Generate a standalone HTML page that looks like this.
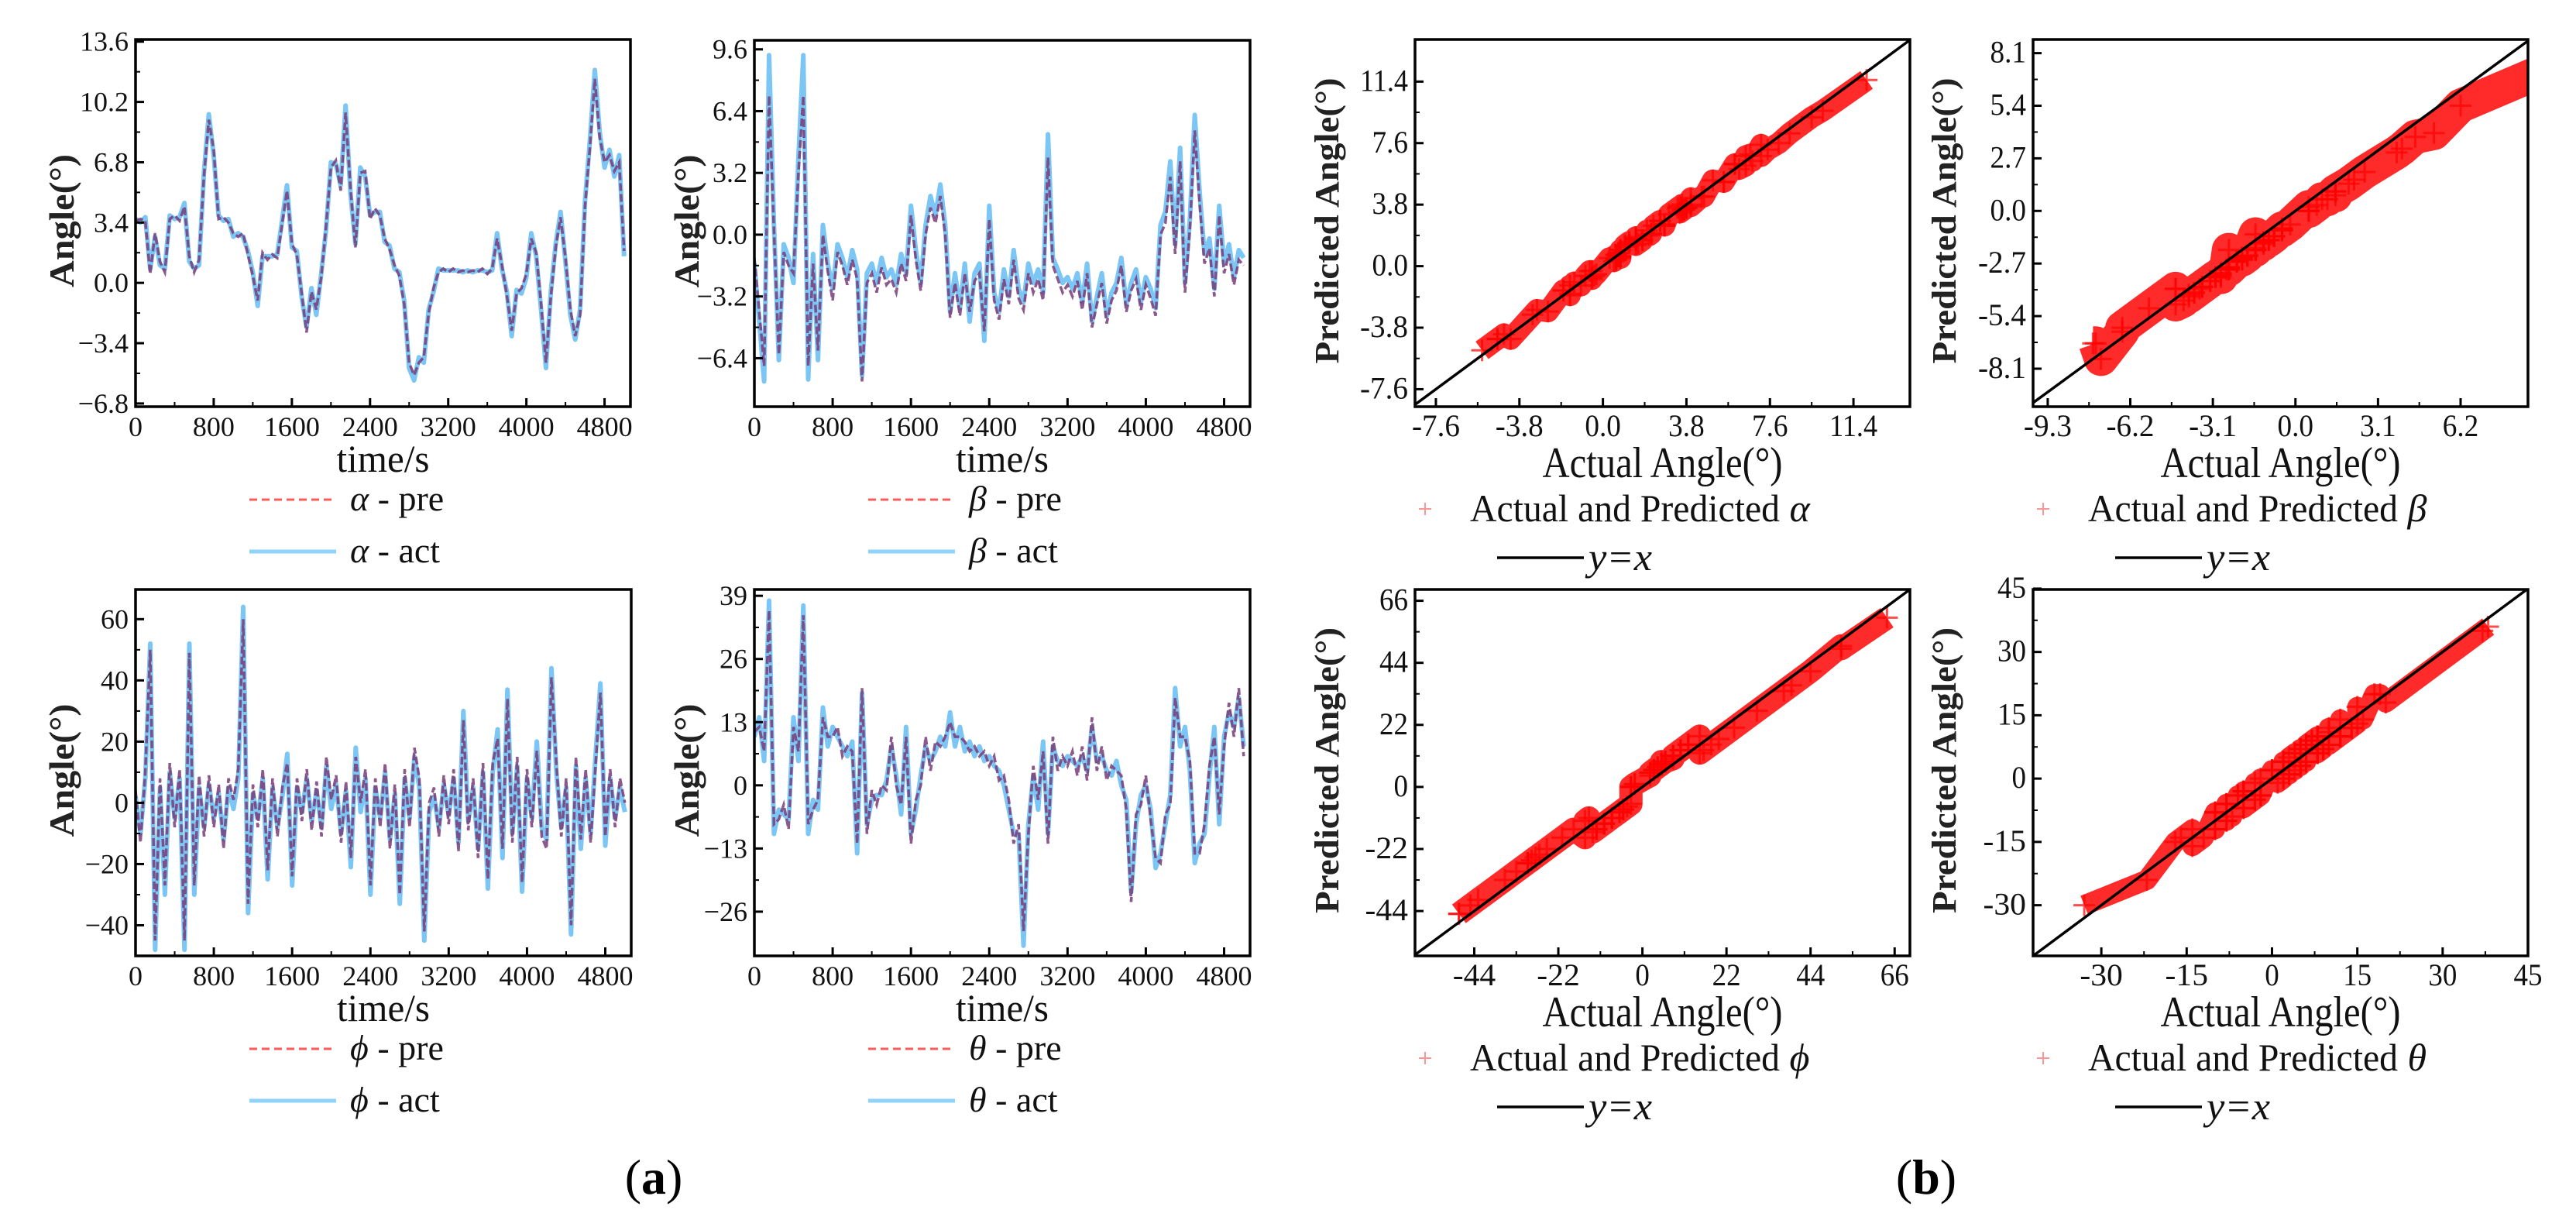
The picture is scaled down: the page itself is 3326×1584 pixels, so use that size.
<!DOCTYPE html>
<html><head><meta charset="utf-8"><title>Angle prediction results</title>
<style>
html,body{margin:0;padding:0;background:#fff;width:3326px;height:1584px;overflow:hidden;position:relative;}
svg{position:absolute;left:0;top:0;display:block;font-family:"Liberation Serif","DejaVu Serif",serif;}
</style></head>
<body><svg id="fig" width="3326" height="1584" viewBox="0 0 3326 1584" xmlns="http://www.w3.org/2000/svg">
<rect x="0" y="0" width="3326" height="1584" fill="#fff"/>
<text x="844" y="1541" font-size="64" text-anchor="middle">(<tspan font-weight="bold">a</tspan>)</text>
<text x="2487" y="1541" font-size="64" text-anchor="middle">(<tspan font-weight="bold">b</tspan>)</text>
</svg><script>
// ---------- data ----------
const timeTicks = [0, 800, 1600, 2400, 3200, 4000, 4800];
const timeTickLabels = ["0", "800", "1600", "2400", "3200", "4000", "4800"];
const timeSpan = 5000;

const alphaAct = [3.6,3.4,3.7,0.8,2.6,1.0,0.8,3.8,3.6,3.7, 4.5,1.2,0.8,1.0,6.2,9.5,7.2,3.8,3.5,3.6, 2.6,2.8,2.6,1.8,0.6,-1.3,1.5,1.5,1.5,1.6, 3.5,5.5,2.0,1.8,-0.8,-2.5,-0.3,-1.8,0.5,3.0, 6.8,6.7,5.5,10.0,5.0,2.2,6.5,6.0,3.8,4.0, 4.0,2.3,2.1,0.8,0.6,-1.0,-4.8,-5.5,-4.2,-4.5, -1.5,-0.5,0.8,0.7,0.7,0.7,0.7,0.6,0.7,0.6, 0.7,0.7,0.6,0.7,2.8,0.8,-0.5,-3.0,-0.4,-0.6, 0.3,2.8,1.5,-1.5,-4.8,-0.5,2.2,4.0,1.2,-1.8, -3.2,-1.5,4.6,8.0,12.0,8.5,6.5,7.5,6.0,7.2, 1.5];
const alphaPre = [3.5,3.6,3.5,0.5,2.8,1.2,0.6,3.6,3.8,3.5, 4.3,1.5,0.6,1.3,6.0,9.2,7.5,3.6,3.7,3.4, 2.8,2.6,2.8,1.6,0.4,-1.0,1.7,1.3,1.6,1.4, 3.3,5.2,2.2,1.6,-0.6,-2.8,-0.5,-1.5,0.3,3.2, 6.5,6.9,5.2,9.6,5.3,2.0,6.2,6.3,3.6,4.2, 3.8,2.5,1.9,1.0,0.4,-1.2,-4.5,-5.2,-4.5,-4.2, -1.7,-0.3,0.6,0.8,0.6,0.8,0.6,0.7,0.6,0.7, 0.6,0.8,0.5,0.8,2.5,1.0,-0.7,-2.7,-0.6,-0.3, 0.5,2.5,1.7,-1.2,-4.5,-0.8,2.0,3.7,1.4,-1.5, -3.0,-1.8,4.3,7.6,11.5,8.2,6.8,7.2,6.3,6.8, 1.8];

const betaAct = [-1.5,-4.5,-7.6,9.3,0.5,-6.5,-0.5,-1.2,-2.5,4.0, 9.3,-7.5,-1.0,-6.5,0.5,-1.5,-2.8,-0.5,-1.2,-2.2, -0.8,-1.8,-7.3,-2.0,-1.5,-2.5,-1.2,-2.2,-1.8,-2.6, -1.0,-2.0,1.5,-0.8,-2.5,0.5,2.0,1.0,2.6,0.5, -4.0,-2.0,-3.8,-1.5,-4.5,-2.0,-1.5,-5.5,1.5,-3.0, -4.0,-1.8,-3.2,-0.8,-2.8,-3.5,-1.5,-2.5,-1.8,-3.0, 5.2,-1.2,-1.8,-2.5,-2.2,-2.8,-2.0,-3.5,-1.5,-4.5, -3.2,-2.0,-4.2,-3.0,-2.5,-1.2,-3.6,-2.5,-1.8,-3.5, -2.2,-2.8,-3.8,0.5,1.2,3.8,-0.5,4.5,-2.5,0.8, 6.2,2.2,-1.0,-0.2,-2.8,1.5,-1.5,-0.5,-2.2,-0.8, -1.2];
const betaPre = [-1.2,-4.0,-6.8,7.2,0.2,-6.2,-0.9,-1.6,-2.0,3.2, 7.2,-6.8,-1.5,-6.0,0.0,-1.9,-3.4,-0.9,-1.6,-2.6, -1.3,-2.3,-7.6,-2.5,-2.0,-3.0,-1.7,-2.6,-2.3,-3.0, -1.5,-2.4,1.0,-1.3,-2.9,0.0,1.4,0.6,2.0,0.0, -4.3,-2.5,-4.2,-2.0,-4.0,-2.4,-2.0,-5.0,0.8,-3.4, -4.4,-2.3,-3.6,-1.3,-3.3,-3.9,-2.0,-3.0,-2.3,-3.4, 4.0,-1.6,-2.3,-3.0,-2.6,-3.2,-2.4,-3.9,-2.0,-4.8, -3.6,-2.5,-4.6,-3.4,-2.9,-1.6,-4.0,-2.9,-2.3,-3.9, -2.6,-3.3,-4.2,0.0,0.6,3.0,-1.0,3.8,-3.0,0.3, 5.4,1.6,-1.5,-0.7,-3.2,1.0,-2.0,-1.0,-2.6,-1.3, -1.6];

const phiAct = [2,-10,8,52,-48,5,-30,10,-5,8, -48,52,-30,5,-8,6,-5,3,-12,5, -2,8,64,-36,3,-5,8,-25,5,-8, 2,16,-27,5,-3,8,-6,4,-8,12, -2,6,-10,4,-21,18,-3,8,-30,5, -5,10,-12,3,-33,8,-5,15,5,-45, -3,2,-8,6,-4,8,-13,30,-6,5, -15,10,-28,10,24,-18,37,-10,12,-29, 8,-5,20,-8,-12,44,10,-8,5,-43, 12,-15,8,-10,15,39,-14,8,-5,5, -3];
const phiPre = [4,-13,10,50,-45,8,-27,13,-8,11, -45,49,-27,9,-11,9,-8,6,-15,8, 1,11,60,-33,6,-8,11,-22,8,-11, 5,13,-24,8,-6,11,-9,7,-11,15, 1,9,-13,7,-18,15,0,11,-27,8, -8,13,-15,6,-30,11,-8,18,8,-42, 0,5,-11,9,-7,11,-16,27,-9,8, -18,13,-25,13,21,-15,34,-13,15,-26, 11,-8,17,-11,-15,41,13,-11,8,-40, 15,-12,11,-13,12,36,-11,11,-8,8, 0];

const thetaAct = [10,14,5,38,-10,-5,-6,-7,14,5, 37,-10,-3,-5,16,8,12,10,8,6, 9,-14,19,-8,-3,-2,-2,1,8,2, -6,12,-10,-5,2,8,5,7,10,8, 15,8,12,7,9,6,8,5,6,4, 3,0,-5,-10,-10,-33,-8,2,-5,9, -10,8,5,4,6,5,4,6,3,12, 5,6,3,2,5,0,-3,-22,-8,-2, 0,-5,-17,-14,-8,-2,20,8,12,3, -16,-12,-10,2,12,-8,10,15,12,18, 8];
const thetaPre = [11,12,7,36,-8,-7,-4,-9,12,7, 35,-8,-5,-3,14,10,10,12,6,8, 7,-12,20,-10,-1,-4,0,-1,10,0, -4,10,-12,-3,0,10,3,9,8,10, 13,10,10,9,7,8,6,7,4,6, 1,2,-3,-12,-8,-30,-10,4,-3,7, -12,10,3,6,4,7,2,8,1,14, 3,8,1,4,3,2,-5,-24,-6,-4, 2,-7,-15,-16,-6,-4,18,10,10,5, -14,-14,-8,4,10,-6,8,17,10,20, 6];

const alphaTicks = [-6.8,-3.4,0,3.4,6.8,10.2,13.6];
const alphaTickLabels = ["\u22126.8","\u22123.4","0.0","3.4","6.8","10.2","13.6"];
const betaTicks = [-6.4,-3.2,0,3.2,6.4,9.6];
const betaTickLabels = ["\u22126.4","\u22123.2","0.0","3.2","6.4","9.6"];
const phiTicks = [-40,-20,0,20,40,60];
const phiTickLabels = ["\u221240","\u221220","0","20","40","60"];
const thetaTicks = [-26,-13,0,13,26,39];
const thetaTickLabels = ["\u221226","\u221213","0","13","26","39"];

const sAlphaTicks = [-7.6,-3.8,0,3.8,7.6,11.4];
const sAlphaTickLabels = ["-7.6","-3.8","0.0","3.8","7.6","11.4"];
const sBetaXTicks = [-9.3,-6.2,-3.1,0,3.1,6.2];
const sBetaXTickLabels = ["-9.3","-6.2","-3.1","0.0","3.1","6.2"];
const sBetaYTicks = [-8.1,-5.4,-2.7,0,2.7,5.4,8.1];
const sBetaYTickLabels = ["-8.1","-5.4","-2.7","0.0","2.7","5.4","8.1"];
const sPhiTicks = [-44,-22,0,22,44,66];
const sPhiTickLabels = ["-44","-22","0","22","44","66"];
const sThetaXTicks = [-30,-15,0,15,30,45];
const sThetaXTickLabels = ["-30","-15","0","15","30","45"];
const sThetaYTicks = [-30,-15,0,15,30,45];
const sThetaYTickLabels = ["-30","-15","0","15","30","45"];

// ---------- helpers ----------
const NS = "http://www.w3.org/2000/svg";
const svg = document.getElementById('fig');
function mk(tag, parent, name) {
  const e = document.createElementNS(NS, tag);
  
  
  parent.appendChild(e);
  return e;
}
function setA(e, o) { for (const k in o) e.setAttribute(k, o[k]); return e; }

let clipId = 0;
function makePanel(cfg) {
  const g = mk('g', svg, cfg.name);
  const sx = v => cfg.L + (v - cfg.xmin) / (cfg.xmax - cfg.xmin) * (cfg.R - cfg.L);
  const sy = v => cfg.B - (v - cfg.ymin) / (cfg.ymax - cfg.ymin) * (cfg.B - cfg.T);
  const cid = 'clip' + (clipId++);
  const cp = document.createElementNS(NS, 'clipPath');
  cp.setAttribute('id', cid);
  const cr = document.createElementNS(NS, 'rect');
  setA(cr, {x: cfg.L, y: cfg.T, width: cfg.R - cfg.L, height: cfg.B - cfg.T});
  cp.appendChild(cr); svg.appendChild(cp);
  const plot = mk('g', g, 'plot-area');
  plot.setAttribute('clip-path', 'url(#' + cid + ')');
  const xg = mk('g', g, 'x-axis');
  cfg.xt.forEach((v, i) => {
    const x = sx(v);
    const t = mk('line', xg, 'x-tick');
    setA(t, {x1: x, x2: x, y1: cfg.B, y2: cfg.B - 11, stroke: '#000', 'stroke-width': 3});
    if (i < cfg.xt.length - 1) {
      const m = sx((v + cfg.xt[i + 1]) / 2);
      const mt = mk('line', xg, 'x-minor-tick');
      setA(mt, {x1: m, x2: m, y1: cfg.B, y2: cfg.B - 6, stroke: '#000', 'stroke-width': 2});
    }
    const lb = mk('text', xg, 'x-tick-label');
    setA(lb, {x: x, y: cfg.B + 38, 'font-size': cfg.tfs, 'text-anchor': 'middle', fill: '#111'});
    if (cfg.cw) setA(lb, {textLength: cfg.xl[i].length * cfg.cw, lengthAdjust: 'spacingAndGlyphs'});
    lb.textContent = cfg.xl[i];
  });
  const yg = mk('g', g, 'y-axis');
  cfg.yt.forEach((v, i) => {
    const y = sy(v);
    const t = mk('line', yg, 'y-tick');
    setA(t, {x1: cfg.L, x2: cfg.L + 11, y1: y, y2: y, stroke: '#000', 'stroke-width': 3});
    if (i < cfg.yt.length - 1) {
      const m = sy((v + cfg.yt[i + 1]) / 2);
      const mt = mk('line', yg, 'y-minor-tick');
      setA(mt, {x1: cfg.L, x2: cfg.L + 6, y1: m, y2: m, stroke: '#000', 'stroke-width': 2});
    }
    const lb = mk('text', yg, 'y-tick-label');
    setA(lb, {x: cfg.L - 9, y: y + 12, 'font-size': cfg.tfs, 'text-anchor': 'end', fill: '#111'});
    if (cfg.cw) setA(lb, {textLength: cfg.yl[i].length * cfg.cw, lengthAdjust: 'spacingAndGlyphs'});
    lb.textContent = cfg.yl[i];
  });
  const xt = mk('text', g, 'x-axis-title');
  setA(xt, {x: (cfg.L + cfg.R) / 2, y: cfg.B + cfg.xtDy, 'font-size': cfg.xtfs, 'text-anchor': 'middle', textLength: cfg.xtLen, lengthAdjust: 'spacingAndGlyphs', fill: '#111'});
  xt.textContent = cfg.xTitle;
  const yt = mk('text', g, 'y-axis-title');
  const cy = (cfg.T + cfg.B) / 2 - 3;
  setA(yt, {x: cfg.ytX, y: cy, 'font-size': cfg.ytfs, 'font-weight': 'bold', 'text-anchor': 'middle', transform: 'rotate(-90 ' + cfg.ytX + ' ' + cy + ')', textLength: cfg.ytLen, lengthAdjust: 'spacingAndGlyphs', fill: '#222'});
  yt.textContent = cfg.yTitle;
  const fr = mk('rect', g, 'plot-frame');
  setA(fr, {x: cfg.L, y: cfg.T, width: cfg.R - cfg.L, height: cfg.B - cfg.T, fill: 'none', stroke: '#000', 'stroke-width': 3.5});
  return {g, plot, sx, sy};
}

function timeSeries(cfg, act, pre, sym) {
  const p = makePanel(cfg);
  const n = act.length;
  const ptsA = act.map((v, i) => p.sx(i / (n - 1) * timeSpan).toFixed(1) + ',' + p.sy(v).toFixed(1)).join(' ');
  const la = mk('polyline', p.plot, sym + '-act-line');
  setA(la, {points: ptsA, fill: 'none', stroke: '#7cc6f6', 'stroke-width': 6, 'stroke-linejoin': 'round'});
  const m = pre.length;
  const ptsP = pre.map((v, i) => p.sx(i / (m - 1) * timeSpan).toFixed(1) + ',' + p.sy(v).toFixed(1)).join(' ');
  const lp = mk('polyline', p.plot, sym + '-pre-line');
  setA(lp, {points: ptsP, fill: 'none', stroke: 'rgba(120,60,120,0.85)', 'stroke-width': 3.5, 'stroke-dasharray': '10,4'});
  const lg = mk('g', svg, sym + '-legend');
  const lx = cfg.L + 147, ly = cfg.B + 120;
  const l1 = mk('line', lg, 'legend-pre-swatch');
  setA(l1, {x1: lx, x2: lx + 112, y1: ly, y2: ly, stroke: '#ff5a5a', 'stroke-width': 3, 'stroke-dasharray': '10,6'});
  const t1 = mk('text', lg, 'legend-pre-label');
  setA(t1, {x: lx + 130, y: ly + 14, 'font-size': 46, fill: '#111'});
  t1.innerHTML = '<tspan font-style="italic">' + cfg.greek + '</tspan> - pre';
  const l2 = mk('line', lg, 'legend-act-swatch');
  setA(l2, {x1: lx, x2: lx + 112, y1: ly + 67, y2: ly + 67, stroke: '#8fd3fb', 'stroke-width': 5});
  const t2 = mk('text', lg, 'legend-act-label');
  setA(t2, {x: lx + 130, y: ly + 81, 'font-size': 46, fill: '#111'});
  t2.innerHTML = '<tspan font-style="italic">' + cfg.greek + '</tspan> - act';
}

function scatter(cfg, act, pre, sym) {
  const p = makePanel(cfg);
  const idx = act.map((v, i) => i).sort((a, b) => act[a] - act[b]);
  const band = mk('polyline', p.plot, sym + '-scatter-density-band');
  setA(band, {points: idx.map(i => p.sx(act[i]).toFixed(1) + ',' + p.sy(pre[i]).toFixed(1)).join(' '), fill: 'none', stroke: 'rgba(255,20,20,0.9)', 'stroke-width': cfg.bandW, 'stroke-linejoin': 'round', 'stroke-linecap': 'butt'});
  const pg = mk('g', p.plot, sym + '-scatter-points');
  act.forEach((v, i) => {
    const x = p.sx(v), y = p.sy(pre[i]);
    const c = mk('path', pg, 'scatter-point');
    setA(c, {d: 'M' + (x - 14) + ' ' + y + 'H' + (x + 14) + 'M' + x + ' ' + (y - 14) + 'V' + (y + 14), stroke: 'rgba(255,0,0,0.7)', 'stroke-width': 3});
  });
  const lo = Math.max(cfg.xmin, cfg.ymin), hi = Math.min(cfg.xmax, cfg.ymax);
  const dl = mk('line', p.plot, 'y-equals-x-line');
  setA(dl, {x1: p.sx(lo), y1: p.sy(lo), x2: p.sx(hi), y2: p.sy(hi), stroke: '#000', 'stroke-width': 3.5});
  const lg = mk('g', svg, sym + '-scatter-legend');
  const bx = cfg.L, by = cfg.B;
  const mkr = mk('path', lg, 'legend-marker');
  const mx = bx + 13, my = by + 132;
  setA(mkr, {d: 'M' + (mx - 8) + ' ' + my + 'H' + (mx + 8) + 'M' + mx + ' ' + (my - 8) + 'V' + (my + 8), stroke: 'rgba(255,80,80,0.6)', 'stroke-width': 2});
  const t1 = mk('text', lg, 'legend-scatter-label');
  setA(t1, {x: bx + 71, y: by + 148, 'font-size': 50, fill: '#111'});
  t1.innerHTML = '<tspan textLength="400" lengthAdjust="spacingAndGlyphs">Actual and Predicted</tspan> <tspan font-style="italic">' + cfg.greek + '</tspan>';
  const l2 = mk('line', lg, 'legend-line-swatch');
  setA(l2, {x1: bx + 106, x2: bx + 218, y1: by + 195, y2: by + 195, stroke: '#000', 'stroke-width': 3.5});
  const t2 = mk('text', lg, 'legend-line-label');
  setA(t2, {x: bx + 224, y: by + 211, 'font-size': 50, 'font-style': 'italic', textLength: 82, lengthAdjust: 'spacingAndGlyphs', fill: '#111'});
  t2.textContent = 'y=x';
}

// ---------- time series (a) ----------
const tsBase = {xmin: 0, xmax: 5065, xt: timeTicks, xl: timeTickLabels, tfs: 36, xTitle: 'time/s', xtDy: 84, xtfs: 50, xtLen: 120, yTitle: 'Angle(\u00B0)', ytfs: 46, ytLen: 172};
timeSeries(Object.assign({}, tsBase, {name: 'alpha-timeseries', L: 175, R: 814, T: 51, B: 525, ymin: -6.98, ymax: 13.72, yt: alphaTicks, yl: alphaTickLabels, ytX: 95, greek: '\u03B1'}), alphaAct, alphaPre, 'alpha');
timeSeries(Object.assign({}, tsBase, {name: 'beta-timeseries', L: 974, R: 1614, T: 52, B: 525, ymin: -8.91, ymax: 10.07, yt: betaTicks, yl: betaTickLabels, ytX: 902, greek: '\u03B2'}), betaAct, betaPre, 'beta');
timeSeries(Object.assign({}, tsBase, {name: 'phi-timeseries', L: 175, R: 815, T: 761, B: 1234, ymin: -50, ymax: 69.7, yt: phiTicks, yl: phiTickLabels, ytX: 95, greek: '\u03D5'}), phiAct, phiPre, 'phi');
timeSeries(Object.assign({}, tsBase, {name: 'theta-timeseries', L: 974, R: 1614, T: 761, B: 1234, ymin: -35.1, ymax: 40.3, yt: thetaTicks, yl: thetaTickLabels, ytX: 902, greek: '\u03B8'}), thetaAct, thetaPre, 'theta');

// ---------- scatter (b) ----------
const scBase = {tfs: 40, xTitle: 'Actual Angle(\u00B0)', xtDy: 91, xtfs: 56, xtLen: 310, yTitle: 'Predicted Angle(\u00B0)', ytfs: 44, ytLen: 369};
scatter(Object.assign({}, scBase, {name: 'alpha-scatter', L: 1827, R: 2466, T: 51, B: 525, xmin: -8.55, xmax: 13.97, ymin: -8.68, ymax: 14.0, xt: sAlphaTicks, xl: sAlphaTickLabels, yt: sAlphaTicks, yl: sAlphaTickLabels, cw: 15.5, ytX: 1728, bandW: 28, greek: '\u03B1'}), alphaAct, alphaPre, 'alpha');
scatter(Object.assign({}, scBase, {name: 'beta-scatter', L: 2625, R: 3264, T: 51, B: 525, xmin: -9.85, xmax: 8.73, ymin: -10.05, ymax: 8.8, xt: sBetaXTicks, xl: sBetaXTickLabels, yt: sBetaYTicks, yl: sBetaYTickLabels, cw: 15.5, ytX: 2525, bandW: 44, greek: '\u03B2'}), betaAct, betaPre, 'beta');
scatter(Object.assign({}, scBase, {name: 'phi-scatter', L: 1827, R: 2466, T: 761, B: 1234, xmin: -59.5, xmax: 70, ymin: -59.9, ymax: 70, xt: sPhiTicks, xl: sPhiTickLabels, yt: sPhiTicks, yl: sPhiTickLabels, cw: 18.5, ytX: 1728, bandW: 30, greek: '\u03D5'}), phiAct, phiPre, 'phi');
scatter(Object.assign({}, scBase, {name: 'theta-scatter', L: 2625, R: 3264, T: 761, B: 1234, xmin: -42, xmax: 45, ymin: -42, ymax: 44.8, xt: sThetaXTicks, xl: sThetaXTickLabels, yt: sThetaYTicks, yl: sThetaYTickLabels, cw: 18.5, ytX: 2525, bandW: 26, greek: '\u03B8'}), thetaAct, thetaPre, 'theta');
</script></body></html>
